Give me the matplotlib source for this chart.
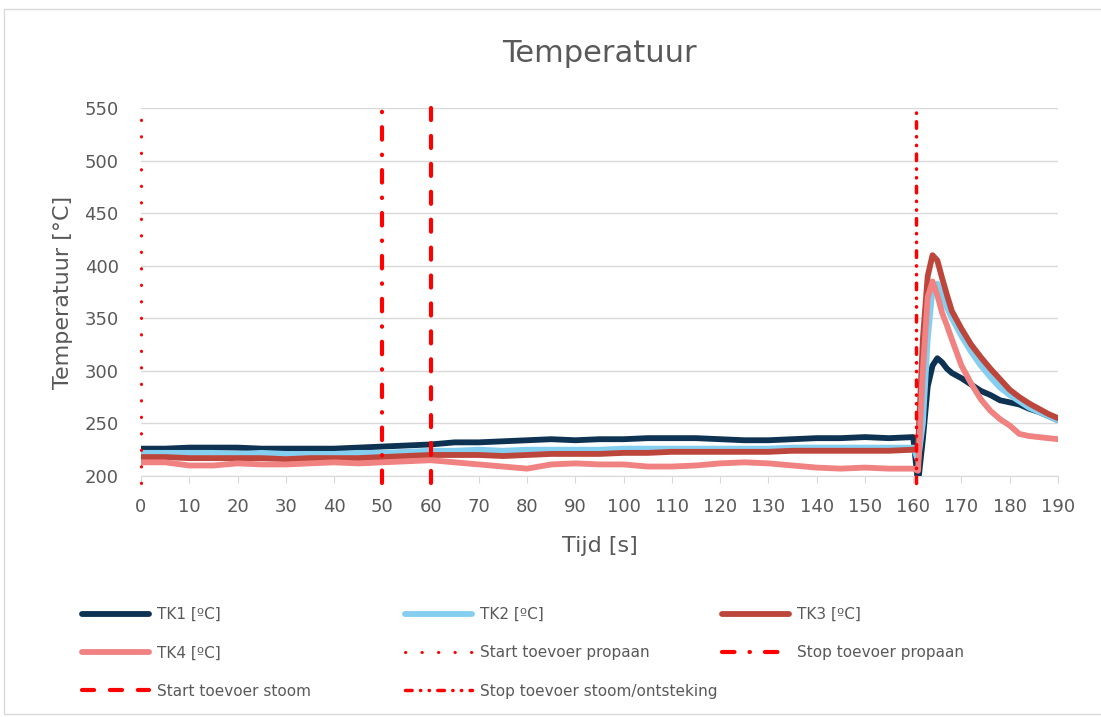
import matplotlib.pyplot as plt
from matplotlib.lines import Line2D
from matplotlib.patches import Rectangle

# time axis [s]: coarse before ignition, finer around the peak
tijd = [0, 5, 10, 15, 20, 25, 30, 35, 40, 45, 50, 55, 60, 65, 70, 75, 80, 85, 90, 95,
        100, 105, 110, 115, 120, 125, 130, 135, 140, 145, 150, 155, 160,
        161, 162, 163, 164, 165, 166, 167, 168, 170, 172, 174, 176, 178, 180,
        182, 184, 186, 188, 190]

tk1 = [226, 226, 227, 227, 227, 226, 226, 226, 226, 227, 228, 229, 230, 232, 232, 233,
       234, 235, 234, 235, 235, 236, 236, 236, 235, 234, 234, 235, 236, 236, 237, 236, 237,
       193, 235, 285, 305, 312, 308, 302, 298, 293, 287, 281, 277, 272, 270,
       268, 264, 261, 257, 253]
tk2 = [222, 222, 222, 222, 221, 222, 221, 221, 221, 222, 222, 223, 224, 224, 225, 224,
       225, 225, 225, 225, 226, 226, 226, 226, 226, 226, 226, 227, 227, 227, 227, 227, 227,
       215, 250, 330, 378, 383, 370, 360, 350, 333, 318, 305, 294, 284, 277,
       271, 265, 261, 257, 253]
tk3 = [218, 218, 217, 217, 217, 217, 216, 217, 217, 217, 218, 219, 220, 220, 220, 219,
       220, 221, 221, 221, 222, 222, 223, 223, 223, 223, 223, 224, 224, 224, 224, 224, 225,
       226, 330, 390, 410, 405, 388, 372, 357, 340, 325, 313, 302, 292, 282,
       275, 269, 264, 259, 255]
tk4 = [213, 213, 210, 210, 212, 211, 211, 212, 213, 212, 213, 214, 215, 213, 211, 209,
       207, 211, 212, 211, 211, 209, 209, 210, 212, 213, 212, 210, 208, 207, 208, 207, 207,
       205, 300, 370, 385, 372, 355, 343, 330, 305, 288, 273, 262, 254, 248,
       240, 238, 237, 236, 235]

series_labels = ['TK1 [ºC]', 'TK2 [ºC]', 'TK3 [ºC]', 'TK4 [ºC]']
series_colors = ['#0D3252', '#84CEF0', '#BC463C', '#F08282']

event_times = [0, 50, 60, 160.5]
event_labels = ['Start toevoer propaan', 'Stop toevoer propaan',
                'Start toevoer stoom', 'Stop toevoer stoom/ontsteking']
event_styles = [(0, (0.1, 5.3)), (0, (3.0, 3.6, 0.1, 3.6)), (0, (2.9, 3.8)),
                (0, (1.9, 2.4, 0.1, 2.4, 0.1, 2.4))]
event_widths = [2.2, 3.0, 3.0, 2.5]

grey = '#595959'

fig = plt.figure(figsize=(11.01, 7.17), dpi=100)
ax = fig.add_axes([141 / 1101, 1 - 476 / 717, 917 / 1101, 368 / 717])

fig.patches.append(Rectangle((4 / 1101, 0.004), 1.2, 1 - 9 / 717 - 0.004,
                             transform=fig.transFigure, fill=False,
                             edgecolor='#D9D9D9', linewidth=1))

style = {}
for vals, lab, col in zip([tk1, tk2, tk3, tk4], series_labels, series_colors):
    ax.plot(tijd, vals, color=col, linewidth=4.2, solid_capstyle='round',
            solid_joinstyle='round', label=lab)
    style[lab] = dict(color=col, linestyle='-', linewidth=4.2, solid_capstyle='round')

for t, lab, ls, lw in zip(event_times, event_labels, event_styles, event_widths):
    ax.axvline(t, ymin=-0.02, ymax=1.0, color='#FF0000', linestyle=ls, linewidth=lw,
               dash_capstyle='round', clip_on=False, zorder=3)
    style[lab] = dict(color='#FF0000', linestyle=ls, linewidth=lw, dash_capstyle='round')

ax.set_xlim(0, 190)
ax.set_ylim(200, 550)
ax.set_xticks(range(0, 191, 10))
ax.set_yticks(range(200, 551, 50))
ax.grid(axis='y', color='#D9D9D9', linewidth=1)
ax.set_axisbelow(True)
for s in ['top', 'right', 'left']:
    ax.spines[s].set_visible(False)
ax.spines['bottom'].set_color('#D9D9D9')
ax.spines['bottom'].set_zorder(0.5)
ax.tick_params(axis='x', length=5, color='#D9D9D9', labelsize=13, labelcolor=grey, pad=11)
ax.tick_params(axis='y', length=0, labelsize=13, labelcolor=grey, pad=16)

ax.set_title('Temperatuur', fontsize=22, color=grey, pad=33)
ax.set_xlabel('Tijd [s]', fontsize=16, color=grey, labelpad=14)
ax.set_ylabel('Temperatuur [°C]', fontsize=16, color=grey, labelpad=8)

# legend laid out as three columns like the original
columns = [
    ['TK1 [ºC]', 'TK4 [ºC]', 'Start toevoer stoom'],
    ['TK2 [ºC]', 'Start toevoer propaan', 'Stop toevoer stoom/ontsteking'],
    ['TK3 [ºC]', 'Stop toevoer propaan'],
]
col_x = [76 / 1101, 399 / 1101, 716 / 1101]
for x0, names in zip(col_x, columns):
    hs = [Line2D([], [], **style[n]) for n in names]
    fig.legend(hs, names, loc='upper left', bbox_to_anchor=(x0, 1 - 601 / 717),
               frameon=False, fontsize=11, labelcolor=grey, handlelength=4.4,
               handletextpad=0.5, labelspacing=1.52, borderaxespad=0)

fig.savefig('out.png', dpi=100)
